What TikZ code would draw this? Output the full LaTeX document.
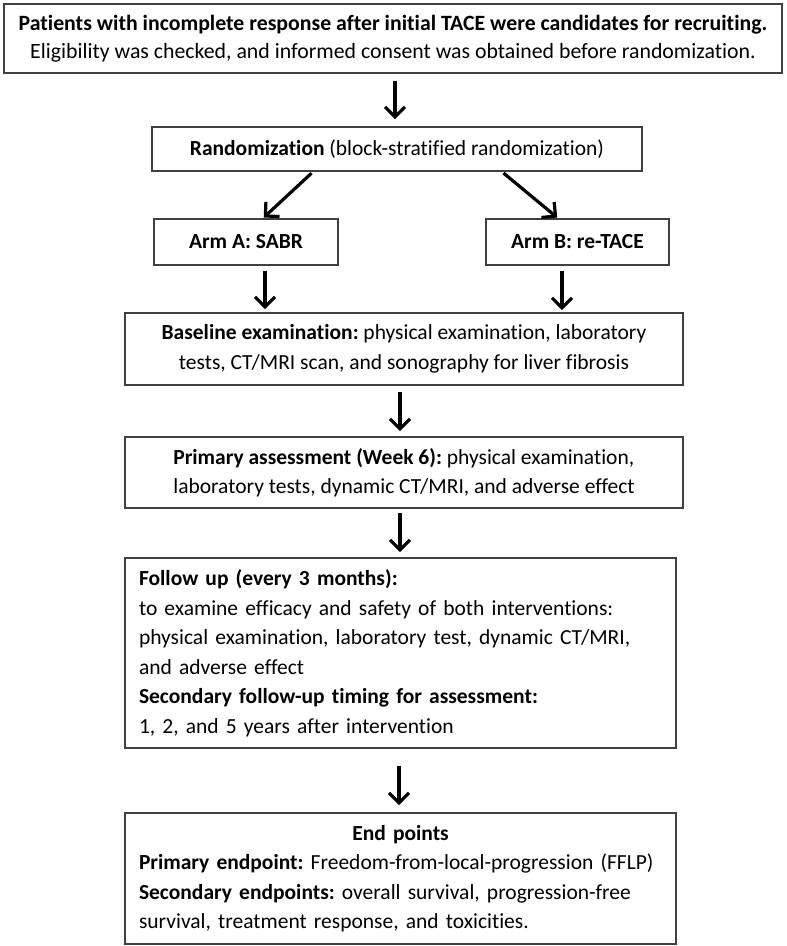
\documentclass[tikz,border=0pt]{standalone}
\usepackage{fontspec}
\setmainfont[Ligatures=NoCommon]{Carlito}
\usetikzlibrary{arrows.meta}

\tikzset{
  box/.style={draw=black!75, line width=1.6pt, inner sep=0pt, fill=white,
    font=\fontsize{21.5}{29.5}\selectfont\frenchspacing},
  flow/.style={line width=3.2pt, -{Straight Barb[length=10pt,width=20pt]}}
}

\begin{document}
\begin{tikzpicture}[x=1pt, y=1pt]
    \useasboundingbox (0,0) rectangle (787,-946);
    % Recruiting
    \node[box, minimum width=778, minimum height=69, align=center,
          font=\fontsize{21.8}{28}\selectfont\frenchspacing] (top) at (393,-38.5)
        {\textbf{Patients with incomplete response after initial TACE were candidates for recruiting.}\\
         Eligibility was checked, and informed consent was obtained before randomization.};
    \node[box, minimum width=490, minimum height=44] (rand) at (397,-149)
        {\textbf{Randomization} (block-stratified randomization)};
    % Two arms
    \node[box, minimum width=184, minimum height=46] (armA) at (246,-242) {\textbf{Arm A: SABR}};
    \node[box, minimum width=183, minimum height=46] (armB) at (577.5,-242) {\textbf{Arm B: re-TACE}};
    % Assessments
    \node[box, minimum width=558, minimum height=72, align=center] (base) at (404,-349)
        {\textbf{Baseline examination:} physical examination, laboratory\\
         tests, CT/MRI scan, and sonography for liver fibrosis};
    \node[box, minimum width=558, minimum height=71, align=left] (prim) at (404,-472.5)
        {\textbf{Primary assessment (Week 6):} physical examination,\\
         laboratory tests, dynamic CT/MRI, and adverse effect};
    \node[box, minimum width=551, minimum height=190, text width=523, align=left] (follow) at (400.5,-653)
        {\textbf{Follow up (every 3 months):}\\
         to examine efficacy and safety of both interventions:\\
         physical examination, laboratory test, dynamic CT/MRI,\\
         and adverse effect\\
         \textbf{Secondary follow-up timing for assessment:}\\
         1, 2, and 5 years after intervention};
    \node[box, minimum width=551, minimum height=131, text width=523, align=left] (endp) at (400.5,-878.5)
        {\makebox[\linewidth][c]{\textbf{End points}}\\
         \textbf{Primary endpoint:} Freedom-from-local-progression (FFLP)\\
         \textbf{Secondary endpoints:} overall survival, progression-free\\
         survival, treatment response, and toxicities.};

    % Arrows
    \draw[flow, shorten <=7pt, shorten >=7pt] ([xshift=2pt]top.south) -- ([xshift=2pt]top.south |- rand.north);
    \draw[flow, shorten <=2pt, shorten >=1pt] ([xshift=-84pt]rand.south) -- ([xshift=17pt]armA.north);
    \draw[flow, shorten <=2pt, shorten >=1pt] ([xshift=105pt]rand.south) -- ([xshift=-19.5pt]armB.north);
    \draw[flow, shorten <=5pt, shorten >=3pt] ([xshift=19pt]armA.south) -- ([xshift=19pt]armA.south |- base.north);
    \draw[flow, shorten <=5pt, shorten >=2pt] ([xshift=-15.5pt]armB.south) -- ([xshift=-15.5pt]armB.south |- base.north);
    \draw[flow, shorten <=6pt, shorten >=5pt] ([xshift=-4pt]base.south) -- ([xshift=-4pt]base.south |- prim.north);
    \draw[flow, shorten <=4pt, shorten >=5pt] ([xshift=-4pt]prim.south) -- ([xshift=-4pt]prim.south |- follow.north);
    \draw[flow, shorten <=17pt, shorten >=7pt] ([xshift=-1.5pt]follow.south) -- ([xshift=-1.5pt]follow.south |- endp.north);
\end{tikzpicture}
\end{document}
